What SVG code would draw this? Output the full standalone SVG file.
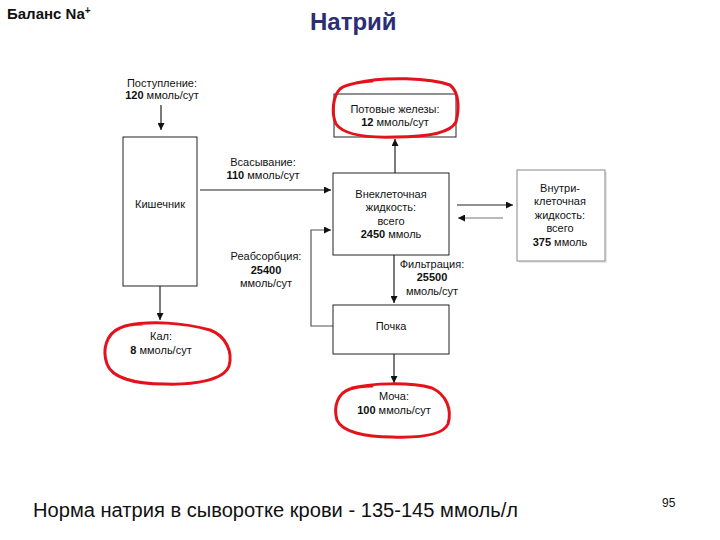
<svg xmlns="http://www.w3.org/2000/svg" width="720" height="540" viewBox="0 0 720 540">
<style>
text{font-family:"Liberation Sans",Arial,sans-serif;fill:#111}
.l{font-size:11px;text-anchor:middle}
.b{font-weight:bold}
.box{fill:#fff;stroke:#222;stroke-width:1}
.c{stroke:#222;stroke-width:1.2;fill:none}
.red{fill:none;stroke:#e3121b;stroke-width:3;stroke-linecap:round;stroke-linejoin:round}
</style>
<defs>
<marker id="ah" viewBox="0 0 10 10" refX="10" refY="5" markerWidth="7" markerHeight="7" markerUnits="userSpaceOnUse" orient="auto"><path d="M0,0 L10,5 L0,10 z" fill="#111"/></marker>
</defs>
<rect width="720" height="540" fill="#fff"/>
<text x="7" y="19" style="font-size:15px;font-weight:bold">Баланс Na<tspan dy="-5" style="font-size:10px">+</tspan></text>
<text x="310" y="30" style="font-size:24px;font-weight:bold;fill:#2b2e74">Натрий</text>

<g id="connectors">
<line class="c" x1="161" y1="105" x2="161" y2="130" marker-end="url(#ah)"/>
<line class="c" x1="200" y1="190" x2="331" y2="190" marker-end="url(#ah)"/>
<line class="c" x1="395" y1="173" x2="395" y2="139" marker-end="url(#ah)"/>
<line class="c" x1="457" y1="205" x2="513" y2="205" marker-end="url(#ah)"/>
<line class="c" x1="503" y1="218" x2="458" y2="218" marker-end="url(#ah)" style="stroke:#777"/>
<line class="c" x1="394" y1="255" x2="394" y2="303" marker-end="url(#ah)"/>
<polyline class="c" points="333,326 311,326 311,230 331,230" marker-end="url(#ah)" style="stroke:#555"/>
<line class="c" x1="160" y1="286" x2="160" y2="320" marker-end="url(#ah)"/>
<line class="c" x1="394" y1="354" x2="394" y2="383" marker-end="url(#ah)"/>
</g>

<g id="intake">
<text class="l" x="162" y="87">Поступление:</text>
<text class="l" x="162" y="99"><tspan class="b">120</tspan> ммоль/сут</text>
</g>
<g id="intestine">
<rect class="box" x="123" y="137" width="74" height="149"/>
<text class="l" x="160" y="208">Кишечник</text>
</g>
<g id="absorption">
<text class="l" x="263" y="166">Всасывание:</text>
<text class="l" x="263" y="179"><tspan class="b">110</tspan> ммоль/сут</text>
</g>
<g id="reabsorption">
<text class="l" x="266" y="260">Реабсорбция:</text>
<text class="l b" x="266" y="274">25400</text>
<text class="l" x="266" y="287">ммоль/сут</text>
</g>
<g id="sweat">
<rect class="box" x="334" y="94" width="122" height="43"/>
<text class="l" x="395" y="113">Потовые железы:</text>
<text class="l" x="395" y="126"><tspan class="b">12</tspan> ммоль/сут</text>
<path class="red" d="M356,83 C385,76 430,78 450,85 C460,93 459,110 456,122 C450,134 425,137 395,137 C365,138 343,134 336,124 C331,113 333,96 340,89 C346,84 360,82 372,81"/>
</g>
<g id="ecf">
<rect class="box" x="333" y="173" width="116" height="82"/>
<text class="l" x="391" y="198">Внеклеточная</text>
<text class="l" x="391" y="211">жидкость:</text>
<text class="l" x="391" y="225">всего</text>
<text class="l" x="391" y="238"><tspan class="b">2450</tspan> ммоль</text>
</g>
<g id="icf">
<rect x="519" y="172" width="88" height="91" fill="#e8e8e8"/>
<rect x="517" y="170" width="88" height="91" fill="#fff" stroke="#888" stroke-width="1"/>
<text class="l" x="560" y="192">Внутри-</text>
<text class="l" x="560" y="205">клеточная</text>
<text class="l" x="560" y="219">жидкость:</text>
<text class="l" x="560" y="232">всего</text>
<text class="l" x="560" y="246"><tspan class="b">375</tspan> ммоль</text>
</g>
<g id="filtration">
<text class="l" x="432" y="268">Фильтрация:</text>
<text class="l b" x="432" y="281">25500</text>
<text class="l" x="432" y="295">ммоль/сут</text>
</g>
<g id="kidney">
<rect class="box" x="333" y="305" width="116" height="49"/>
<text class="l" x="391" y="330">Почка</text>
</g>
<g id="feces">
<text class="l" x="161" y="340">Кал:</text>
<text class="l" x="161" y="354"><tspan class="b">8</tspan> ммоль/сут</text>
<path class="red" d="M125,326 C150,320 185,323 210,330 C226,336 233,352 229,366 C224,380 195,385 165,384 C135,384 112,378 107,364 C102,350 106,334 120,328 C126,325 135,324 142,324"/>
</g>
<g id="urine">
<text class="l" x="394" y="400">Моча:</text>
<text class="l" x="394" y="414"><tspan class="b">100</tspan> ммоль/сут</text>
<path class="red" d="M352,388 C372,383 410,382 432,388 C447,395 452,410 448,424 C443,435 420,438 392,437 C365,437 342,432 337,420 C333,406 338,393 350,389 C356,387 365,386 372,386"/>
</g>
<text x="33" y="517" style="font-size:20px" textLength="485" lengthAdjust="spacingAndGlyphs">Норма натрия в сыворотке крови - 135-145 ммоль/л</text>
<text x="662" y="507" style="font-size:12px">95</text>
</svg>
